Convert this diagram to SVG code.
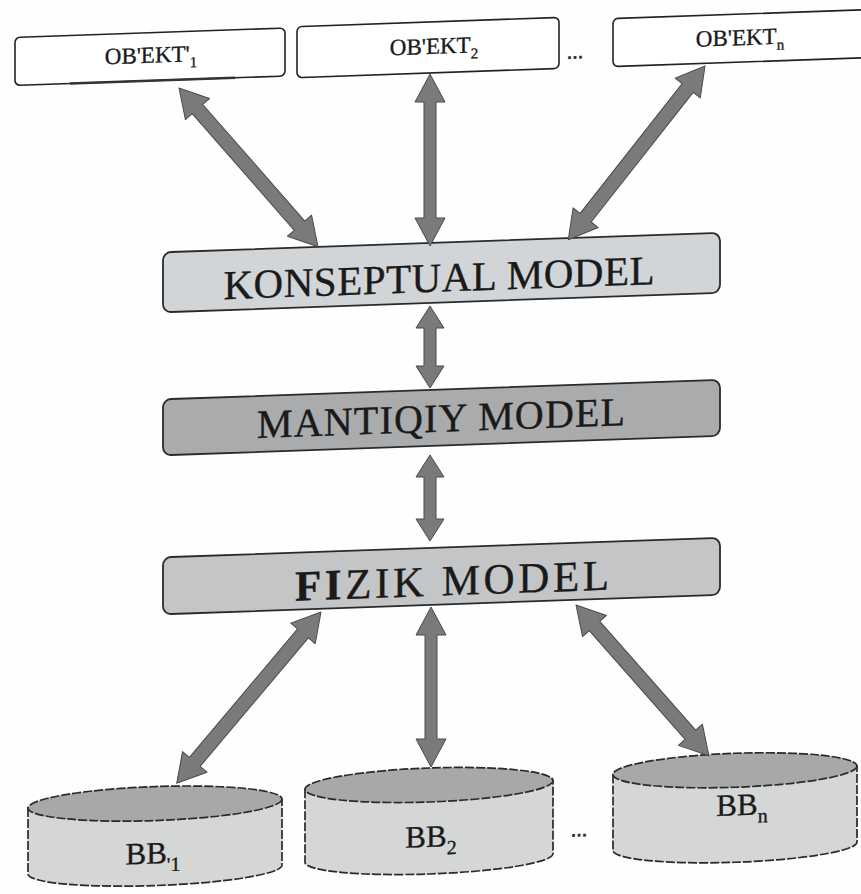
<svg xmlns="http://www.w3.org/2000/svg" width="861" height="894" viewBox="0 0 861 894">
  <style>
    .obj { fill: #ffffff; stroke: #222; stroke-width: 1.6; }
    .obj-shadow { fill: none; stroke: #333; stroke-width: 2.6; }
    .lbl { font-family: "Liberation Serif", "Times New Roman", serif; fill: #1a1a1a; text-anchor: middle; stroke: #1a1a1a; stroke-width: 0.35; }
    .model { stroke: #2a2a2a; stroke-width: 1.8; }
    .cyl-body { fill: #d5d6d6; stroke: #2a2a2a; stroke-width: 1.7; stroke-dasharray: 9 2; }
    .cyl-top { fill: #a7a8a8; stroke: #2a2a2a; stroke-width: 1.7; stroke-dasharray: 9 2; }
    .arw { fill: #7a7a7a; stroke: #4a4a4a; stroke-width: 1; stroke-linejoin: round; }
    .dots { font-family: "Liberation Sans", Arial, sans-serif; font-weight: bold; fill: #333; text-anchor: middle; }
  </style>

  <rect width="861" height="894" fill="#fefefe"/>

  <!-- all boxes and drums sit on a slightly sheared page -->
  <g id="nodes" transform="matrix(1,-0.035,0,1,0,15)">
    <g id="obj1">
      <rect class="obj" x="15" y="23" width="270" height="48" rx="5"/>
      <line class="obj-shadow" x1="70" y1="71" x2="235" y2="71"/>
      <text class="lbl" x="151" y="53" font-size="23">OB'EKT'<tspan dy="6" font-size="15">1</tspan></text>
    </g>
    <g id="obj2">
      <rect class="obj" x="297" y="22" width="262" height="51" rx="5"/>
      <text class="lbl" x="434" y="54" font-size="23">OB'EKT<tspan dy="6" font-size="15">2</tspan></text>
    </g>
    <text class="dots" x="575" y="64" font-size="20">...</text>
    <g id="objn">
      <rect class="obj" x="613" y="25" width="262" height="48" rx="5"/>
      <text class="lbl" x="740" y="56" font-size="23">OB'EKT<tspan dy="6" font-size="15">n</tspan></text>
    </g>

    <g id="konseptual">
      <rect class="model" x="163" y="243" width="557" height="60" rx="8" fill="#d2d5d7"/>
      <text class="lbl" x="439" y="292" font-size="41" textLength="431" lengthAdjust="spacing">KONSEPTUAL  MODEL</text>
    </g>
    <g id="mantiqiy">
      <rect class="model" x="163" y="390" width="557" height="56" rx="8" fill="#a9abac"/>
      <text class="lbl" x="441" y="432" font-size="40" textLength="368" lengthAdjust="spacing">MANTIQIY  MODEL</text>
    </g>
    <g id="fizik">
      <rect class="model" x="163" y="548" width="557" height="57" rx="8" fill="#c3c5c6"/>
      <text class="lbl" x="452" y="596" font-size="43" textLength="314" lengthAdjust="spacing"><tspan font-weight="bold">FI</tspan>ZIK  MODEL</text>
    </g>

    <g id="bb1">
      <path class="cyl-body" d="M28,794 L28,860 A127,16 0 0 0 282,860 L282,794 Z"/>
      <ellipse class="cyl-top" cx="155" cy="794" rx="127" ry="17"/>
      <text class="lbl" x="153" y="854" font-size="31">BB<tspan dy="8" font-size="20">'1</tspan></text>
    </g>
    <g id="bb2">
      <path class="cyl-body" d="M305,785 L305,858 A124,16 0 0 0 553,858 L553,785 Z"/>
      <ellipse class="cyl-top" cx="429" cy="785" rx="124" ry="17"/>
      <text class="lbl" x="431" y="847" font-size="31">BB<tspan dy="8" font-size="20">2</tspan></text>
    </g>
    <text class="dots" x="579" y="842" font-size="20">...</text>
    <g id="bbn">
      <path class="cyl-body" d="M613,781 L613,857 A122,16 0 0 0 857,857 L857,781 Z"/>
      <ellipse class="cyl-top" cx="735" cy="781" rx="122" ry="17"/>
      <text class="lbl" x="742" y="826" font-size="31">BB<tspan dy="8" font-size="20">n</tspan></text>
    </g>
  </g>

  <!-- double-headed block arrows -->
  <g id="connectors">
    <path class="arw" transform="translate(179,88) rotate(48.8)" d="M0,0 L28,-16 L28,-7 L183,-7 L183,-16 L211,0 L183,16 L183,7 L28,7 L28,16 Z"/>
    <path class="arw" transform="translate(430,74) rotate(90)" d="M0,0 L28,-15 L28,-6 L144,-6 L144,-15 L172,0 L144,15 L144,6 L28,6 L28,15 Z"/>
    <path class="arw" transform="translate(705,66) rotate(128.2)" d="M0,0 L28,-16 L28,-7 L193,-7 L193,-16 L221,0 L193,16 L193,7 L28,7 L28,16 Z"/>
    <path class="arw" transform="translate(430,306) rotate(90)" d="M0,0 L22,-14 L22,-6 L60,-6 L60,-14 L82,0 L60,14 L60,6 L22,6 L22,14 Z"/>
    <path class="arw" transform="translate(430,455) rotate(90)" d="M0,0 L22,-14 L22,-6 L64,-6 L64,-14 L86,0 L64,14 L64,6 L22,6 L22,14 Z"/>
    <path class="arw" transform="translate(321,612) rotate(130.1)" d="M0,0 L28,-16 L28,-7 L196,-7 L196,-16 L224,0 L196,16 L196,7 L28,7 L28,16 Z"/>
    <path class="arw" transform="translate(431,607) rotate(90)" d="M0,0 L28,-15 L28,-6 L132,-6 L132,-15 L160,0 L132,15 L132,6 L28,6 L28,15 Z"/>
    <path class="arw" transform="translate(576,605) rotate(48.6)" d="M0,0 L28,-16 L28,-7 L173,-7 L173,-16 L201,0 L173,16 L173,7 L28,7 L28,16 Z"/>
  </g>
</svg>
